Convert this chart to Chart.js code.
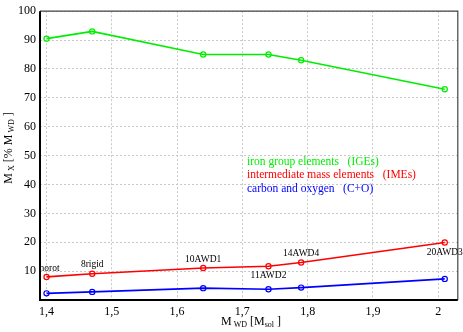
<!DOCTYPE html>
<html><head><meta charset="utf-8">
<script src="https://cdn.jsdelivr.net/npm/chart.js@4/dist/chart.umd.min.js"></script>
<style>html,body{margin:0;padding:0;background:#fff}#wrap{width:463px;height:332px}</style>
</head><body><div id="wrap"><canvas id="c" width="463" height="332"></canvas></div>
<script>
const massWD = [1.40, 1.47, 1.64, 1.74, 1.79, 2.01];
const modelNames = ['norot', '8rigid', '10AWD1', '11AWD2', '14AWD4', '20AWD3'];
const ige = [90.5, 93, 85, 85, 83, 73];
const ime = [8.0, 9.1, 11.1, 11.7, 13.0, 19.9];
const co = [2.3, 2.8, 4.1, 3.7, 4.3, 7.3];
const xTicks = [1.4, 1.5, 1.6, 1.7, 1.8, 1.9, 2.0];
const xTickLabels = ['1,4', '1,5', '1,6', '1,7', '1,8', '1,9', '2'];
const yTicks = [10, 20, 30, 40, 50, 60, 70, 80, 90, 100];
const legendLines = [
  ['iron group elements   (IGEs)', '#00ee00'],
  ['intermediate mass elements   (IMEs)', '#ff0000'],
  ['carbon and oxygen   (C+O)', '#0000ff']
];
const labelPos = ['above', 'above', 'above', 'below', 'above', 'below'];

const SERIF = '"Liberation Serif", "Times New Roman", Times, serif';
function ds(vals, color) {
  return {
    data: massWD.map((m, i) => ({x: m, y: vals[i]})),
    borderColor: color, backgroundColor: 'rgba(0,0,0,0)',
    borderWidth: 1.6, pointRadius: 2.6, pointBorderWidth: 1.2,
    pointBackgroundColor: 'rgba(0,0,0,0)', pointBorderColor: color,
    tension: 0
  };
}

const extras = {
  id: 'extras',
  afterDraw(chart) {
    const ctx = chart.ctx, a = chart.chartArea;
    ctx.save();
    ctx.strokeStyle = '#444'; ctx.lineWidth = 1.2;
    ctx.beginPath(); ctx.moveTo(a.left, a.top); ctx.lineTo(a.right, a.top); ctx.lineTo(a.right, a.bottom); ctx.stroke();
    ctx.strokeStyle = '#000'; ctx.lineWidth = 2;
    ctx.beginPath(); ctx.moveTo(a.left, a.top); ctx.lineTo(a.left, a.bottom); ctx.lineTo(a.right, a.bottom); ctx.stroke();
    const meta = chart.getDatasetMeta(1);
    ctx.fillStyle = '#000'; ctx.font = '9.5px ' + SERIF; ctx.textAlign = 'center';
    meta.data.forEach((p, i) => {
      let x = p.x, y;
      if (labelPos[i] === 'above') { ctx.textBaseline = 'bottom'; y = p.y - 4; }
      else { ctx.textBaseline = 'top'; y = p.y + 5; }
      if (i === 0) x = p.x + 3;
      ctx.fillText(modelNames[i], x, y);
    });
    ctx.font = '11.5px ' + SERIF; ctx.textAlign = 'left'; ctx.textBaseline = 'middle';
    legendLines.forEach((l, i) => { ctx.fillStyle = l[1]; ctx.fillText(l[0], 247, 162 + i * 13.3); });
    ctx.fillStyle = '#000';
    const MAIN = '12px ', SUB = '8px ';
    function widthOf(parts) {
      let w = 0; parts.forEach(([t, s]) => { ctx.font = (s ? SUB : MAIN) + SERIF; w += ctx.measureText(t).width; }); return w;
    }
    function sub(parts, x, y) {
      let cx = x;
      parts.forEach(([t, s]) => {
        ctx.font = (s ? SUB : MAIN) + SERIF;
        ctx.fillText(t, cx, y + (s ? 3 : 0));
        cx += ctx.measureText(t).width;
      });
    }
    const xparts = [['M', 0], [' WD', 1], [' [M', 0], ['sol', 1], [' ]', 0]];
    ctx.textBaseline = 'middle'; ctx.textAlign = 'left';
    sub(xparts, 251 - widthOf(xparts) / 2, 322);
    const yparts = [['M', 0], [' X', 1], [' [% M', 0], [' WD', 1], [' ]', 0]];
    const w = widthOf(yparts);
    ctx.translate(9, 148); ctx.rotate(-Math.PI / 2);
    ctx.textBaseline = 'middle';
    sub(yparts, -w / 2, 0);
    ctx.restore();
  }
};

new Chart(document.getElementById('c'), {
  type: 'line',
  data: { datasets: [ds(ige, '#00ee00'), ds(ime, '#ff0000'), ds(co, '#0000ff')] },
  options: {
    responsive: false, animation: false, devicePixelRatio: 1,
    layout: { padding: { top: 5, right: 2, left: 0, bottom: 0 } },
    plugins: { legend: { display: false }, tooltip: { enabled: false } },
    scales: {
      x: {
        type: 'linear', min: 1.39, max: 2.03,
        afterBuildTicks(s) { s.ticks = xTicks.map(v => ({value: v})); },
        afterFit(s) { s.height = 32; },
        ticks: { callback: (v, i) => xTickLabels[i], color: '#000', font: { family: SERIF, size: 12 }, padding: 5, maxRotation: 0, autoSkip: false },
        grid: { color: '#c8c8c8', lineWidth: 1, drawTicks: false, tickLength: 0 },
        border: { display: false, dash: [2, 2] }
      },
      y: {
        type: 'linear', min: 0, max: 100,
        afterBuildTicks(s) { s.ticks = yTicks.map(v => ({value: v})); },
        afterFit(s) { s.width = 40; },
        ticks: { color: '#000', font: { family: SERIF, size: 12 }, padding: 4, autoSkip: false },
        grid: { color: '#c8c8c8', lineWidth: 1, drawTicks: false, tickLength: 0 },
        border: { display: false, dash: [2, 2] }
      }
    }
  },
  plugins: [extras]
});
</script></body></html>
